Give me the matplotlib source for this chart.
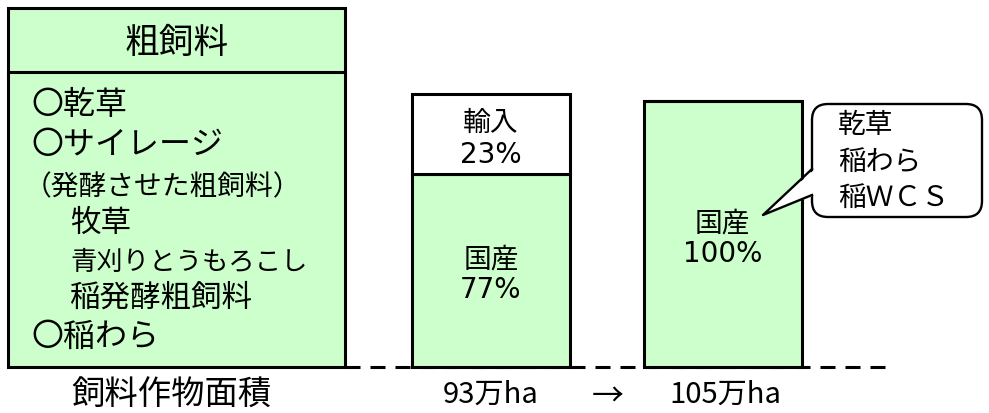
import matplotlib.pyplot as plt
from matplotlib.patches import Rectangle, FancyBboxPatch, Polygon

plt.rcParams['font.family'] = ['Noto Sans CJK JP', 'DejaVu Sans']
plt.rcParams['lines.scale_dashes'] = False

# data
periods = ["93万ha", "105万ha"]
domestic_pct = [77, 100]
import_pct = [23, 0]
# drawn (schematic) segment heights in pixels
domestic_height = [193, 266]
import_height = [80, 0]

box_title = "粗飼料"
box_lines = ["〇乾草", "〇サイレージ", "（発酵させた粗飼料）", "牧草",
             "青刈りとうもろこし", "稲発酵粗飼料", "〇稲わら"]
box_indent = [0, 0, -1, 1, 1, 1, 0]
box_sizes = [23, 23, 20, 22, 19, 22, 23]
callout_lines = ["乾草", "稲わら", "稲ＷＣＳ"]

green = "#CCFFCC"
W, H = 989, 414
base = 368

fig = plt.figure(figsize=(W / 100, H / 100), dpi=100)
ax = fig.add_axes([0, 0, 1, 1])
ax.set_xlim(0, W)
ax.set_ylim(H, 0)
ax.axis("off")

# dashed ground line
ax.plot([345, 885], [base, base], color="black", lw=2.2,
        linestyle=(0, (10.8, 7.2)), zorder=1, solid_capstyle="butt")

# left box with feed types
ax.add_patch(Rectangle((8, 9), 337, base - 9, facecolor=green,
                       edgecolor="black", lw=2.2, zorder=2))
ax.plot([8, 345], [73, 73], color="black", lw=2.2, zorder=3)
ax.text(177, 43, box_title, fontsize=25, ha="center", va="center", zorder=4)
ys = [105, 145, 187, 223, 262, 298, 337]
xpos = {0: 31, -1: 24, 1: 70}
for txt, y, ind, size in zip(box_lines, ys, box_indent, box_sizes):
    ax.text(xpos[ind], y, txt, fontsize=size, ha="left", va="center", zorder=4)
ax.text(171, 395, "飼料作物面積", fontsize=24, ha="center", va="center")

# bars
xs = [491, 722.5]
ax.bar(xs, [-h for h in domestic_height], bottom=base, width=158,
       color=green, edgecolor="black", linewidth=2.2, zorder=2)
ax.bar(xs, [-h for h in import_height],
       bottom=[base - d for d in domestic_height], width=158,
       color="white", edgecolor="black", linewidth=2.2, zorder=2)

num_font = dict(family="DejaVu Sans", fontsize=20)
for x, d, i, dh, ih in zip(xs, domestic_pct, import_pct,
                           domestic_height, import_height):
    mid = base - dh / 2
    ax.text(x, mid - 12, "国産", fontsize=20, ha="center", va="center", zorder=4)
    ax.text(x, mid + 19, f"{d}%", ha="center", va="center", zorder=4, **num_font)
    if i:
        top = base - dh - ih / 2
        ax.text(x, top - 12, "輸入", fontsize=20, ha="center", va="center", zorder=4)
        ax.text(x, top + 20, f"{i}%", ha="center", va="center", zorder=4, **num_font)

for x, p in zip(xs, periods):
    ax.text(x + (3 if p.startswith("1") else 0), 395, p, fontsize=21,
            ha="center", va="center")
ax.text(608, 397, "→", fontsize=23, ha="center", va="center")

# callout
ax.add_patch(FancyBboxPatch((812, 105), 170, 113,
                            boxstyle="round,pad=0,rounding_size=16",
                            facecolor="white", edgecolor="black", lw=1.7,
                            zorder=5))
tip = (763, 216)
ax.add_patch(Polygon([tip, (815, 170), (815, 196)], closed=True,
                     facecolor="white", edgecolor="none", zorder=6))
ax.plot([812, tip[0], 812], [170, tip[1], 196], color="black", lw=1.7,
        zorder=7)
for txt, y in zip(callout_lines, [125, 162, 198]):
    ax.text(838, y, txt, fontsize=20, ha="left", va="center", zorder=8)

fig.savefig("out.png", dpi=100)
